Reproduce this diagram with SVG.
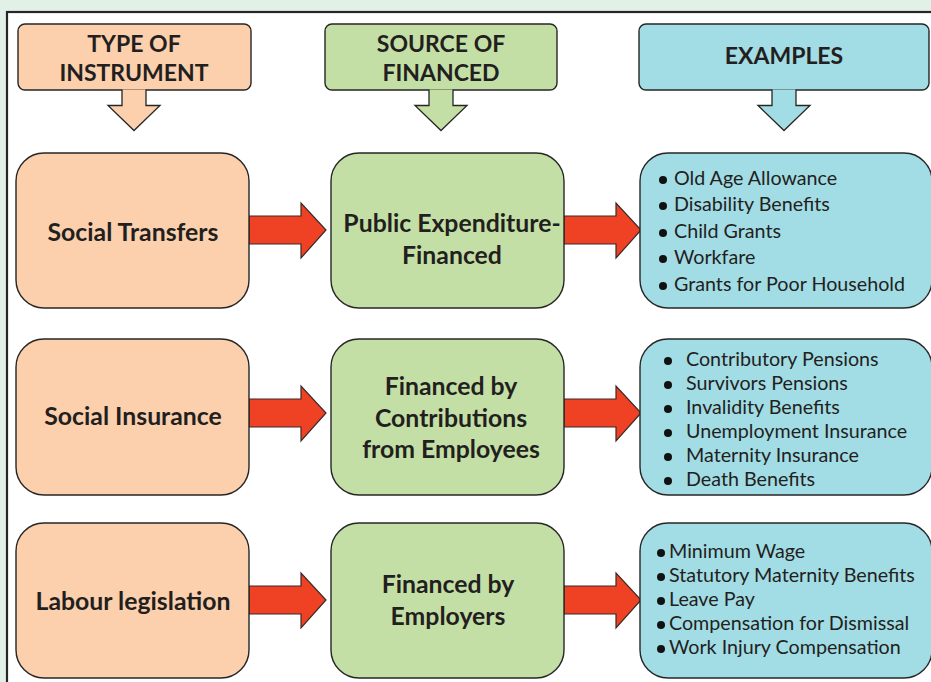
<svg xmlns="http://www.w3.org/2000/svg" xmlns:xlink="http://www.w3.org/1999/xlink" width="931" height="682" viewBox="0 0 931 682">
<style>
.bg{fill:#e1f1e7}
.frame{fill:#ffffff;stroke:#262626;stroke-width:2.2}
.box{stroke:#262626;stroke-width:1.4}
.peach{fill:#fcd0ad}
.green{fill:#c4dfa5}
.blue{fill:#a2dce5}
.red{fill:#ef4123;stroke:#3a2a2a;stroke-width:1.2;stroke-linejoin:miter}
.dn{stroke:#262626;stroke-width:1.3;stroke-linejoin:miter}
.h{font-family:Lato,"Noto Sans",sans-serif;font-weight:bold;font-size:23px;fill:#231f20;text-anchor:middle}
.t{font-family:Lato,"Noto Sans",sans-serif;font-weight:bold;font-size:24.8px;fill:#231f20;text-anchor:middle}
.l{font-family:Lato,"Noto Sans",sans-serif;font-size:19.7px;fill:#231f20}
.dot{fill:#111111}
</style>
<defs>
<path id="ra" d="M0,-14 H52 V-27 L77,0 L52,28 V14 H0 Z"/>
<path id="da" d="M-12,0 V16 H-26 L0,41 L26,16 H12 V0"/>
</defs>
<rect class="bg" x="0" y="0" width="931" height="682"/>
<rect class="frame" x="7" y="12" width="940" height="690"/>

<g id="hdr-type">
<rect class="box peach" x="18" y="24" width="233" height="66" rx="7"/>
<use xlink:href="#da" class="dn peach" transform="translate(134,89.5)"/>
<text class="h" x="134" y="52">TYPE OF</text>
<text class="h" x="134" y="81">INSTRUMENT</text>
</g>
<g id="hdr-source">
<rect class="box green" x="325" y="24" width="232" height="66" rx="7"/>
<use xlink:href="#da" class="dn green" transform="translate(441,89.5)"/>
<text class="h" x="441" y="52">SOURCE OF</text>
<text class="h" x="441" y="81">FINANCED</text>
</g>
<g id="hdr-examples">
<rect class="box blue" x="639" y="24" width="290" height="66" rx="7"/>
<use xlink:href="#da" class="dn blue" transform="translate(784,89.5)"/>
<text class="h" x="784" y="64">EXAMPLES</text>
</g>

<g id="connectors">
<use xlink:href="#ra" class="red" transform="translate(249,230)"/>
<use xlink:href="#ra" class="red" transform="translate(564,230)"/>
<use xlink:href="#ra" class="red" transform="translate(249,413)"/>
<use xlink:href="#ra" class="red" transform="translate(564,413)"/>
<use xlink:href="#ra" class="red" transform="translate(249,600)"/>
<use xlink:href="#ra" class="red" transform="translate(564,600)"/>
</g>

<g id="social-transfers">
<rect class="box peach" x="16" y="153" width="233" height="155" rx="28"/>
<text class="t" x="133" y="241">Social Transfers</text>
</g>
<g id="public-expenditure">
<rect class="box green" x="331" y="153" width="233" height="155" rx="28"/>
<text class="t" x="452" y="232">Public Expenditure-</text>
<text class="t" x="452" y="264">Financed</text>
</g>
<g id="examples-1">
<rect class="box blue" x="640" y="153" width="292" height="155" rx="28"/>
<circle class="dot" cx="663" cy="180" r="4"/>
<circle class="dot" cx="663" cy="206" r="4"/>
<circle class="dot" cx="663" cy="233" r="4"/>
<circle class="dot" cx="663" cy="259" r="4"/>
<circle class="dot" cx="663" cy="286" r="4"/>
<text class="l" x="674" y="185">Old Age Allowance</text>
<text class="l" x="674" y="211">Disability Benefits</text>
<text class="l" x="674" y="238">Child Grants</text>
<text class="l" x="674" y="264">Workfare</text>
<text class="l" x="674" y="291">Grants for Poor Household</text>
</g>

<g id="social-insurance">
<rect class="box peach" x="16" y="339" width="233" height="156" rx="28"/>
<text class="t" x="133" y="425">Social Insurance</text>
</g>
<g id="contributions">
<rect class="box green" x="331" y="339" width="233" height="156" rx="28"/>
<text class="t" x="451" y="395">Financed by</text>
<text class="t" x="451" y="427">Contributions</text>
<text class="t" x="451" y="458">from Employees</text>
</g>
<g id="examples-2">
<rect class="box blue" x="640" y="339" width="292" height="156" rx="28"/>
<circle class="dot" cx="668" cy="361" r="4"/>
<circle class="dot" cx="668" cy="385" r="4"/>
<circle class="dot" cx="668" cy="409" r="4"/>
<circle class="dot" cx="668" cy="433" r="4"/>
<circle class="dot" cx="668" cy="457" r="4"/>
<circle class="dot" cx="668" cy="481" r="4"/>
<text class="l" x="686" y="366">Contributory Pensions</text>
<text class="l" x="686" y="390">Survivors Pensions</text>
<text class="l" x="686" y="414">Invalidity Benefits</text>
<text class="l" x="686" y="438">Unemployment Insurance</text>
<text class="l" x="686" y="462">Maternity Insurance</text>
<text class="l" x="686" y="486">Death Benefits</text>
</g>

<g id="labour-legislation">
<rect class="box peach" x="16" y="523" width="233" height="155" rx="28"/>
<text class="t" x="133" y="610">Labour legislation</text>
</g>
<g id="employers">
<rect class="box green" x="331" y="523" width="233" height="155" rx="28"/>
<text class="t" x="448" y="593">Financed by</text>
<text class="t" x="448" y="625">Employers</text>
</g>
<g id="examples-3">
<rect class="box blue" x="640" y="523" width="292" height="155" rx="28"/>
<circle class="dot" cx="661" cy="553" r="4"/>
<circle class="dot" cx="661" cy="577" r="4"/>
<circle class="dot" cx="661" cy="601" r="4"/>
<circle class="dot" cx="661" cy="625" r="4"/>
<circle class="dot" cx="661" cy="649" r="4"/>
<text class="l" x="669" y="558">Minimum Wage</text>
<text class="l" x="669" y="582">Statutory Maternity Benefits</text>
<text class="l" x="669" y="606">Leave Pay</text>
<text class="l" x="669" y="630">Compensation for Dismissal</text>
<text class="l" x="669" y="654">Work Injury Compensation</text>
</g>
</svg>
